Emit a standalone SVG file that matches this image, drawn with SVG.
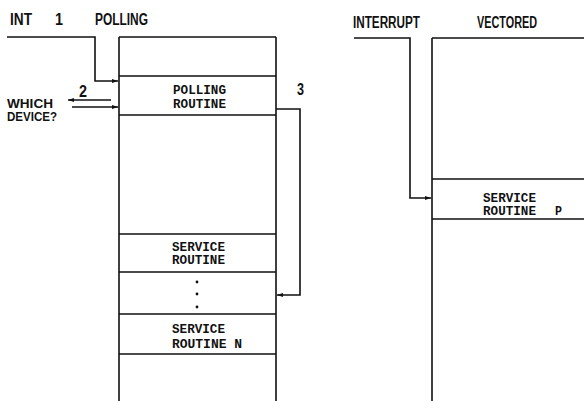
<svg xmlns="http://www.w3.org/2000/svg" width="584" height="401" viewBox="0 0 584 401">
<style>
.ln{fill:none;stroke:#111;stroke-width:1.6}
.hd{font-family:"Liberation Sans",Arial,sans-serif;font-weight:bold;font-size:16px;fill:#111}
.bx{font-family:"Liberation Mono","Courier New",monospace;font-weight:bold;font-size:12.5px;fill:#111}
.sd{font-family:"Liberation Sans",Arial,sans-serif;font-weight:bold;font-size:12.5px;fill:#111}
</style>
<defs>
<marker id="ah" viewBox="0 0 10 10" refX="10" refY="5" markerWidth="6" markerHeight="6" orient="auto" markerUnits="userSpaceOnUse">
<path d="M0,1.5 L10,5 L0,8.5 Z" fill="#111"/>
</marker>
</defs>
<rect width="584" height="401" fill="#fff"/>
<g id="labels">
<text class="hd" x="10" y="25" textLength="22" lengthAdjust="spacingAndGlyphs">INT</text>
<text class="hd" x="55" y="25" textLength="8" lengthAdjust="spacingAndGlyphs">1</text>
<text class="hd" x="95" y="25" textLength="53" lengthAdjust="spacingAndGlyphs">POLLING</text>
<text class="hd" x="353" y="28" textLength="67" lengthAdjust="spacingAndGlyphs">INTERRUPT</text>
<text class="hd" x="477" y="28" textLength="60" lengthAdjust="spacingAndGlyphs">VECTORED</text>
<text class="sd" x="7" y="108" textLength="46" lengthAdjust="spacingAndGlyphs">WHICH</text>
<text class="sd" x="7" y="121" textLength="50" lengthAdjust="spacingAndGlyphs">DEVICE?</text>
<text class="hd" x="79" y="97" font-size="14" textLength="8" lengthAdjust="spacingAndGlyphs">2</text>
<text class="hd" x="297" y="95" font-size="14" textLength="7" lengthAdjust="spacingAndGlyphs">3</text>
</g>
<g id="polling-memory">
<path class="ln" d="M119,37 H276 M119,37 V401 M276,37 V401 M119,76 H276 M119,115 H276 M119,234 H276 M119,272 H276 M119,314 H276 M119,354 H276"/>
</g>
<g id="polling-routine">
<text class="bx" x="173" y="94" textLength="53" lengthAdjust="spacingAndGlyphs">POLLING</text>
<text class="bx" x="173" y="107.5" textLength="53" lengthAdjust="spacingAndGlyphs">ROUTINE</text>
</g>
<g id="service-routine">
<text class="bx" x="172" y="250.5" textLength="53" lengthAdjust="spacingAndGlyphs">SERVICE</text>
<text class="bx" x="172" y="264" textLength="53" lengthAdjust="spacingAndGlyphs">ROUTINE</text>
</g>
<g id="dots">
<circle cx="197" cy="282" r="1.4" fill="#111"/>
<circle cx="197" cy="294" r="1.4" fill="#111"/>
<circle cx="197" cy="307" r="1.4" fill="#111"/>
</g>
<g id="service-routine-n">
<text class="bx" x="172" y="333" textLength="53" lengthAdjust="spacingAndGlyphs">SERVICE</text>
<text class="bx" x="172" y="348" textLength="70" lengthAdjust="spacingAndGlyphs">ROUTINE N</text>
</g>
<g id="vectored-memory">
<path class="ln" d="M432,38 H584 M432,38 V401 M432,179 H584 M432,219 H584"/>
</g>
<g id="service-routine-p">
<text class="bx" x="483" y="201.5" textLength="53" lengthAdjust="spacingAndGlyphs">SERVICE</text>
<text class="bx" x="483" y="215" textLength="53" lengthAdjust="spacingAndGlyphs">ROUTINE</text>
<text class="bx" x="555" y="215" textLength="7" lengthAdjust="spacingAndGlyphs">P</text>
</g>
<g id="connectors">
<path class="ln" d="M7,37 H95 V81 H118" marker-end="url(#ah)"/>
<path class="ln" d="M111,100 H68" marker-end="url(#ah)"/>
<path class="ln" d="M72,107 H118" marker-end="url(#ah)"/>
<path class="ln" d="M276,109 H300 V295 H277" marker-end="url(#ah)"/>
<path class="ln" d="M354,38 H410 V198 H431" marker-end="url(#ah)"/>
</g>
</svg>
